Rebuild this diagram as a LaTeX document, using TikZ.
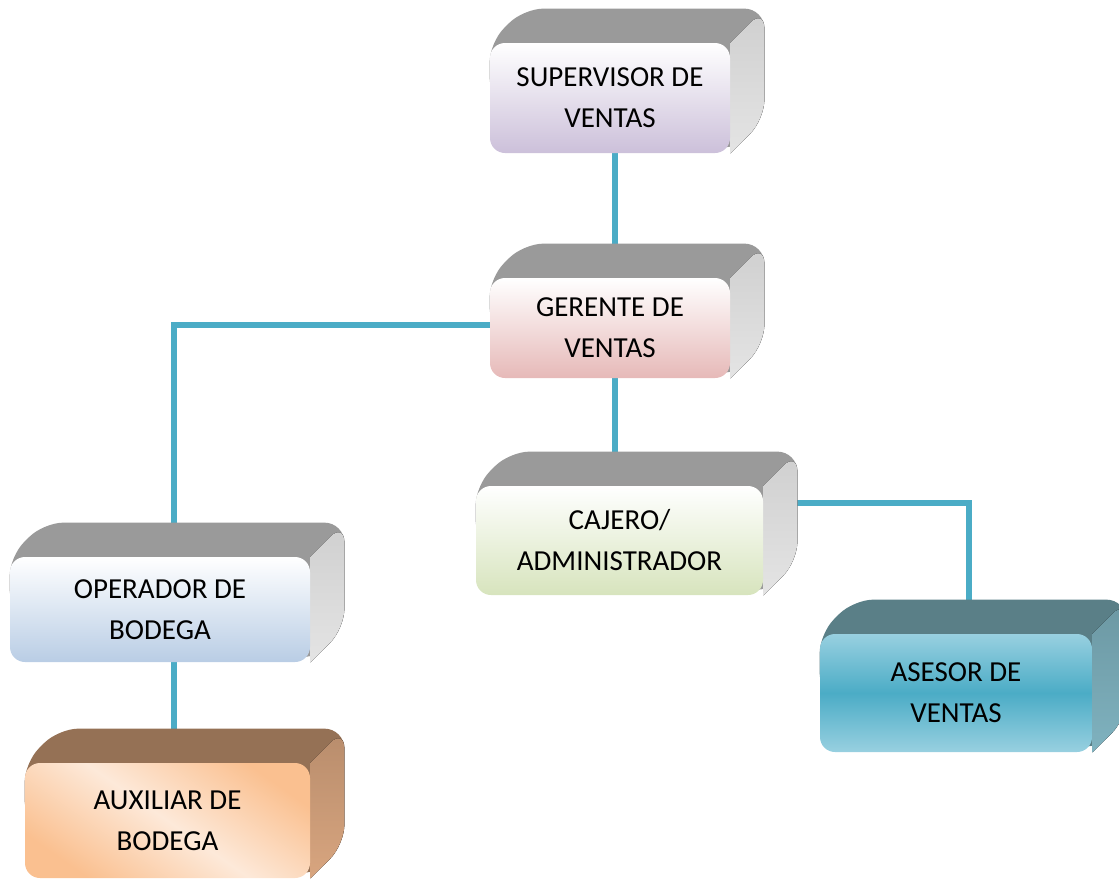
\documentclass[tikz,border=0pt]{standalone}
\usepackage{fontspec}
\setmainfont{Carlito}
\usepackage{xcolor}
\usetikzlibrary{backgrounds,calc}
\definecolor{linkblue}{HTML}{4BACC6}
\definecolor{topgray}{HTML}{9A9A9A}
\definecolor{sidedark}{HTML}{CFCFCF}
\definecolor{sidelight}{HTML}{E4E4E4}
\definecolor{lav}{HTML}{CCC0DA}
\definecolor{rose}{HTML}{E6B9B8}
\definecolor{lime}{HTML}{D7E4BD}
\definecolor{sky}{HTML}{B9CDE5}
\definecolor{aqua}{HTML}{4BACC6}
\definecolor{aqualight}{HTML}{98D0E0}
\definecolor{aquatop}{HTML}{5A7F87}
\definecolor{aquaside}{HTML}{7FB2BF}
\definecolor{peach}{HTML}{FAC090}
\definecolor{peachlight}{HTML}{FDE9D9}
\definecolor{browntop}{HTML}{957155}
\definecolor{brownside}{HTML}{D8A57F}
\tikzset{
	orgbox/.style={
			rounded corners=7.5pt, align=center, inner sep=0pt,
			font=\fontsize{14.5}{20.5}\selectfont
		},
	link/.style={draw=linkblue, line width=3pt},
	plainside/.style={top color=sidedark, bottom color=sidelight}
}
% back faces of a box: #1 node, #2 top colour, #3 side style
\newcommand{\boxsolid}[3]{
	\fill[#2, rounded corners=10pt] (#1.west) -- (#1.north west)
		-- ([shift={(34,-34)}]#1.north west) -- ([shift={(34,-34)}]#1.north east)
		-- ([shift={(34,-34)}]#1.south east) -- (#1.south east) -- (#1.center) -- cycle;
	\fill[#3] (#1.north east) [rounded corners=10pt] -- ([shift={(34,-34)}]#1.north east)
		-- ([shift={(34,-34)}]#1.south east) [sharp corners] -- (#1.south east) -- cycle;
}

\begin{document}
\begin{tikzpicture}[x=0.5pt,y=-0.5pt]
			\useasboundingbox (0,0) rectangle (1119,880);

			\node[orgbox, minimum width=120pt, minimum height=55pt, top color=white, bottom color=lav] (sup) at (610,98) {SUPERVISOR DE\\VENTAS};
			\node[orgbox, minimum width=120pt, minimum height=50pt, top color=white, bottom color=rose] (ger) at (610,328) {GERENTE DE\\VENTAS};
			\node[orgbox, minimum width=143.5pt, minimum height=54.5pt, top color=white, bottom color=lime] (caj) at (619.5,540.5) {CAJERO/\\ADMINISTRADOR};
			\node[orgbox, minimum width=150pt, minimum height=52.5pt, top color=white, bottom color=sky] (ope) at (160,609.5) {OPERADOR DE\\BODEGA};
			\node[orgbox, minimum width=136pt, minimum height=59pt, top color=aqualight, bottom color=aqualight, middle color=aqua] (ase) at (956,693) {ASESOR DE\\VENTAS};
			\node[orgbox, minimum width=142.5pt, minimum height=57.5pt, top color=peach, bottom color=peach, middle color=peachlight, shading angle=-35] (aux) at (167.5,820.5) {AUXILIAR DE\\BODEGA};

			\begin{scope}[on background layer]
				\draw[link] ([xshift=2.5pt]sup.south) -- ([xshift=2.5pt]ger.north);
				\draw[link] ([xshift=2.5pt]ger.south) -- ([xshift=2.5pt]ger.south |- caj.north);
				\draw[link] ([yshift=1.5pt]ger.west) -| ([xshift=7pt]ope.north);
				\draw[link] ([xshift=7pt]ope.south) -- ([xshift=7pt]ope.south |- aux.north);
				\draw[link] ([yshift=19pt]caj.east) -| ([xshift=6.5pt]ase.north);

				\foreach \n in {sup,ger,caj,ope} {
					\boxsolid{\n}{topgray}{plainside}
				}
				\boxsolid{ase}{aquatop}{top color=aquaside!85!black, bottom color=aquaside}
				\boxsolid{aux}{browntop}{top color=brownside!85!black, bottom color=brownside}
			\end{scope}
		\end{tikzpicture}
\end{document}
